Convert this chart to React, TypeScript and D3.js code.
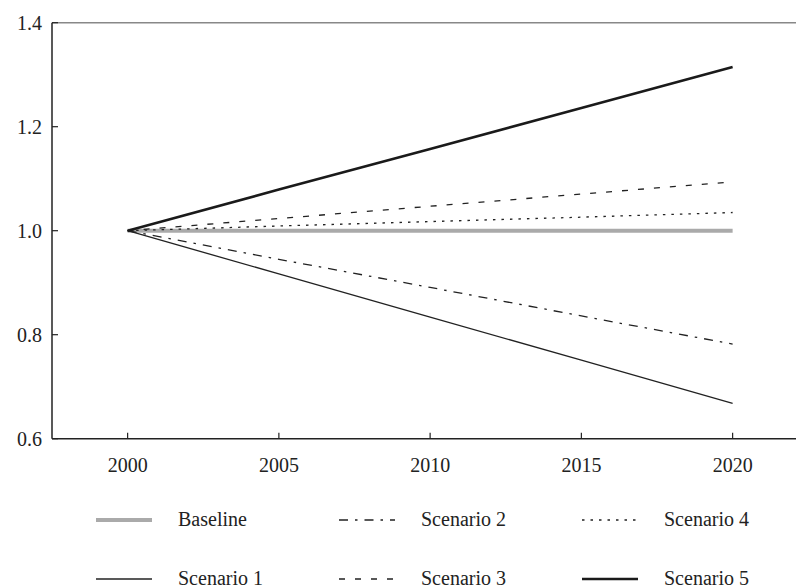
import React from "react";
import * as d3 from "d3";

const years = [2000, 2005, 2010, 2015, 2020];
const baseline = [1.0, 1.0, 1.0, 1.0, 1.0];
const scenario1 = [1.0, 0.917, 0.834, 0.751, 0.668];
const scenario2 = [1.0, 0.945, 0.891, 0.836, 0.782];
const scenario3 = [1.0, 1.0235, 1.047, 1.0705, 1.094];
const scenario4 = [1.0, 1.009, 1.0175, 1.026, 1.035];
const scenario5 = [1.0, 1.079, 1.157, 1.236, 1.315];
const yTicks = [0.6, 0.8, 1.0, 1.2, 1.4];
const xTicks = [2000, 2005, 2010, 2015, 2020];

const seriesNames = ["Baseline", "Scenario 1", "Scenario 2", "Scenario 3", "Scenario 4", "Scenario 5"];
const seriesValues = [baseline, scenario1, scenario2, scenario3, scenario4, scenario5];

const styles: Record<string, { stroke: string; width: number; dash?: string }> = {
  "Baseline": { stroke: "#aaaaaa", width: 4 },
  "Scenario 1": { stroke: "#222", width: 1.3 },
  "Scenario 2": { stroke: "#222", width: 1.3, dash: "9 7 2.5 7" },
  "Scenario 3": { stroke: "#222", width: 1.3, dash: "6 10" },
  "Scenario 4": { stroke: "#222", width: 1.3, dash: "2.5 6" },
  "Scenario 5": { stroke: "#1a1a1a", width: 2.6 },
};

const W = 796, H = 588;
const x = d3.scaleLinear().domain([1997.5, 2022.5]).range([52, 808.25]);
const y = d3.scaleLinear().domain([0.6, 1.4]).range([438.7, 22.7]);

const legendOrder = [
  ["Baseline", 0, 0], ["Scenario 2", 1, 0], ["Scenario 4", 2, 0],
  ["Scenario 1", 0, 1], ["Scenario 3", 1, 1], ["Scenario 5", 2, 1],
] as const;

export default function App() {
  const line = d3.line<number>().x((_, i) => x(years[i])).y((v) => y(v));
  const font = '"Liberation Serif", "DejaVu Serif", serif';
  const ts = { fontFamily: font };
  return (
    <svg width={W} height={H} style={{ position: "absolute", left: 0, top: 0, background: "#fff" }}>
      <rect width={W} height={H} fill="#fff" />
      <line x1={52} x2={W} y1={y(1.4)} y2={y(1.4)} stroke="#888" strokeWidth={1.5} />
      <line x1={52} x2={52} y1={y(1.4)} y2={y(0.6)} stroke="#222" strokeWidth={1.5} />
      <line x1={52} x2={W} y1={y(0.6)} y2={y(0.6)} stroke="#222" strokeWidth={1.5} />
      {yTicks.map((t) => (
        <g key={t}>
          <line x1={52} x2={58} y1={y(t)} y2={y(t)} stroke="#222" strokeWidth={1.2} />
          <text x={42} y={y(t)} dy="0.35em" textAnchor="end" style={ts} fontSize={20} fill="#222">
            {d3.format(".1f")(t)}
          </text>
        </g>
      ))}
      {xTicks.map((t) => (
        <g key={t}>
          <line x1={x(t)} x2={x(t)} y1={y(0.6)} y2={y(0.6) - 6} stroke="#222" strokeWidth={1.2} />
          <text x={x(t)} y={y(0.6) + 33} textAnchor="middle" style={ts} fontSize={20} fill="#222">
            {t}
          </text>
        </g>
      ))}
      {seriesNames.map((n, i) => {
        const s = styles[n];
        return (
          <path key={n} d={line(seriesValues[i]) || ""} fill="none" stroke={s.stroke}
            strokeWidth={s.width} strokeDasharray={s.dash} />
        );
      })}
      {legendOrder.map(([n, col, row]) => {
        const s = styles[n];
        const lx = 96 + col * 243;
        const ly = 520 + row * 59;
        return (
          <g key={n}>
            <line x1={lx} x2={lx + 56} y1={ly} y2={ly} stroke={s.stroke} strokeWidth={s.width}
              strokeDasharray={s.dash} />
            <text x={lx + 82} y={ly} dy="0.32em" style={ts} fontSize={20} fill="#222">{n}</text>
          </g>
        );
      })}
    </svg>
  );
}
